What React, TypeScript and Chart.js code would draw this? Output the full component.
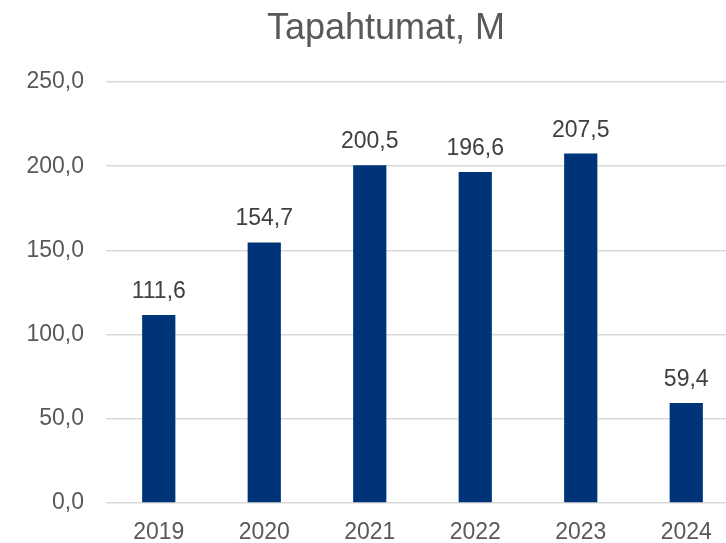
import React, { useEffect, useRef } from "react";
import { Chart, registerables } from "chart.js";

Chart.register(...registerables);

const TITLE = "Tapahtumat, M";
const categories = ["2019", "2020", "2021", "2022", "2023", "2024"];
const values = [111.6, 154.7, 200.5, 196.6, 207.5, 59.4];
const yMin = 0;
const yMax = 250;
const yStep = 50;

const fmt = (v: number) => v.toFixed(1).replace(".", ",");
const FONT = "'Liberation Sans', Arial, sans-serif";

const overlayPlugin = {
  id: "overlay",
  afterDatasetsDraw(chart: any) {
    const ctx = chart.ctx;
    const meta = chart.getDatasetMeta(0);
    ctx.save();
    ctx.font = `23px ${FONT}`;
    ctx.fillStyle = "#404040";
    ctx.textAlign = "center";
    ctx.textBaseline = "alphabetic";
    meta.data.forEach((bar: any, i: number) => {
      ctx.fillText(fmt(values[i]), bar.x, bar.y - 17);
    });
    ctx.font = `36px ${FONT}`;
    ctx.fillStyle = "#595959";
    ctx.fillText(TITLE, 386, 39);
    ctx.restore();
  },
};

export default function App() {
  const ref = useRef<HTMLCanvasElement | null>(null);
  useEffect(() => {
    document.body.style.margin = "0";
    const chart = new Chart(ref.current as HTMLCanvasElement, {
      type: "bar",
      data: {
        labels: categories,
        datasets: [
          {
            data: values,
            backgroundColor: "#003478",
            categoryPercentage: 1,
            barPercentage: 0.315,
          },
        ],
      },
      options: {
        responsive: false,
        animation: false,
        layout: { padding: { top: 82, left: 0, right: 0, bottom: 0 } },
        plugins: {
          legend: { display: false },
          tooltip: { enabled: false },
          title: { display: false },
        },
        scales: {
          x: {
            grid: { display: false },
            border: { display: false },
            ticks: { color: "#595959", font: { family: FONT, size: 23 }, padding: 8 },
            afterFit: (s: any) => {
              s.height = 40;
            },
          },
          y: {
            min: yMin,
            max: yMax,
            grid: { color: "#d9d9d9", lineWidth: 1.5, drawTicks: false },
            border: { display: false },
            ticks: {
              stepSize: yStep,
              color: "#595959",
              font: { family: FONT, size: 23 },
              padding: 22,
              callback: (v: any) => fmt(Number(v)),
            },
            afterFit: (s: any) => {
              s.width = 106;
            },
          },
        },
      },
      plugins: [overlayPlugin],
    });
    return () => chart.destroy();
  }, []);
  return (
    <div style={{ position: "absolute", left: 0, top: 0, width: 726, height: 543, overflow: "hidden", background: "#fff" }}>
      <canvas ref={ref} width={739} height={543} style={{ width: 739, height: 543 }} />
    </div>
  );
}
